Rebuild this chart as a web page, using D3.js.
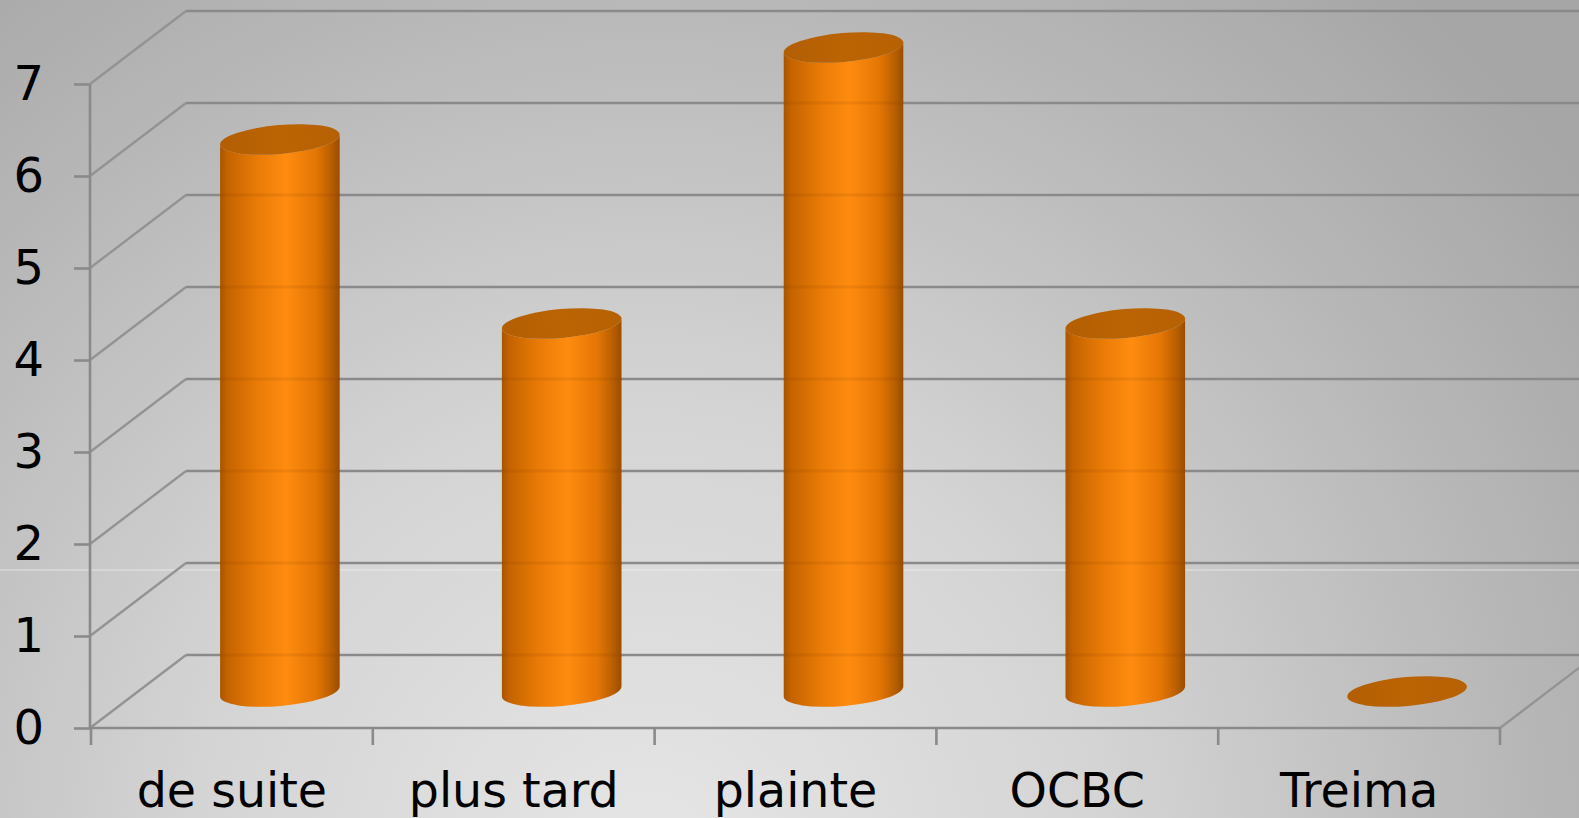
<!DOCTYPE html>
<html>
<head>
<meta charset="utf-8">
<script src="https://cdn.jsdelivr.net/npm/d3@7"></script>
<style>
    html, body { margin: 0; padding: 0; overflow: hidden; }
    svg { display: block; }
</style>
</head>
<body>
<div id="chart"></div>
<script>
const categories = ['de suite', 'plus tard', 'plainte', 'OCBC', 'Treima'];
const values = [6, 4, 7, 4, 0];
const yTicks = [0, 1, 2, 3, 4, 5, 6, 7];

const W = 1579, H = 818;
// 3d depth offset of the back wall
const depth = {dx: 96, dy: -73};

const svg = d3.select('#chart').append('svg')
    .attr('width', W)
    .attr('height', H);

const defs = svg.append('defs');

const bg = defs.append('radialGradient')
    .attr('id', 'bg')
    .attr('gradientUnits', 'userSpaceOnUse')
    .attr('cx', 650).attr('cy', 860).attr('r', 1150);
bg.append('stop').attr('offset', 0).attr('stop-color', '#e6e6e6');
bg.append('stop').attr('offset', 0.4).attr('stop-color', '#d4d4d4');
bg.append('stop').attr('offset', 0.75).attr('stop-color', '#b8b8b8');
bg.append('stop').attr('offset', 1).attr('stop-color', '#a6a6a6');

const sideGrad = defs.append('linearGradient')
    .attr('id', 'side')
    .attr('x1', 0).attr('x2', 1).attr('y1', 0).attr('y2', 0);
[[0, '#a85400'], [0.06, '#c46300'], [0.3, '#e87a06'], [0.55, '#ff8c10'],
 [0.8, '#e47604'], [0.93, '#b85e00'], [1, '#9a4d00']].forEach(([o, c]) => {
    sideGrad.append('stop').attr('offset', o).attr('stop-color', c);
});

const capGrad = defs.append('linearGradient')
    .attr('id', 'cap')
    .attr('x1', 0).attr('x2', 1).attr('y1', 0).attr('y2', 0);
capGrad.append('stop').attr('offset', 0).attr('stop-color', '#b25e02');
capGrad.append('stop').attr('offset', 0.5).attr('stop-color', '#bb6404');
capGrad.append('stop').attr('offset', 1).attr('stop-color', '#b66103');

svg.append('rect')
    .attr('width', W).attr('height', H)
    .attr('fill', 'url(#bg)');

// faint light seam across the background
svg.append('line')
    .attr('x1', 0).attr('x2', W)
    .attr('y1', 570).attr('y2', 570)
    .attr('stroke', '#f2f2f2')
    .attr('stroke-opacity', 0.7)
    .attr('stroke-width', 1.2);

const x = d3.scaleBand().domain(categories).range([91, 1500]).padding(0);
const y = d3.scaleLinear().domain([0, 7]).range([728, 84]);

const gridColor = '#8a8a8a';

// back wall gridlines
svg.append('g').selectAll('line')
    .data(yTicks)
    .join('line')
    .attr('x1', 90 + depth.dx).attr('x2', W)
    .attr('y1', d => y(d) + depth.dy).attr('y2', d => y(d) + depth.dy)
    .attr('stroke', gridColor)
    .attr('stroke-width', 2.6);

// side wall diagonals
svg.append('g').selectAll('line')
    .data(yTicks)
    .join('line')
    .attr('x1', 90).attr('x2', 90 + depth.dx)
    .attr('y1', d => y(d)).attr('y2', d => y(d) + depth.dy)
    .attr('stroke', '#939393')
    .attr('stroke-width', 2.3);

// floor right edge
svg.append('line')
    .attr('x1', x.range()[1]).attr('y1', y(0))
    .attr('x2', x.range()[1] + depth.dx).attr('y2', y(0) + depth.dy)
    .attr('stroke', '#939393')
    .attr('stroke-width', 2.3);

// front axes
const yAxis = d3.axisLeft(y).tickValues(yTicks).tickSize(16).tickPadding(30).tickFormat(d3.format('d'));
const gy = svg.append('g')
    .attr('transform', 'translate(90,0)')
    .call(yAxis);
gy.select('.domain').attr('stroke', gridColor).attr('stroke-width', 2.6).attr('d', `M0,${y(0)}V${y(7)}`);
gy.selectAll('.tick line').attr('stroke', gridColor).attr('stroke-width', 2.6);
gy.selectAll('.tick text')
    .attr('fill', '#000')
    .attr('font-family', '"DejaVu Sans", Verdana, sans-serif')
    .attr('font-size', 48);

const xAxis = d3.axisBottom(x).tickSize(0).tickPadding(0);
const gx = svg.append('g')
    .attr('transform', `translate(0,${y(0)})`)
    .call(xAxis);
gx.select('.domain').attr('stroke', gridColor).attr('stroke-width', 2.6).attr('d', `M${x.range()[0] - 1},0H${x.range()[1]}`);
gx.selectAll('.tick text')
    .attr('fill', '#000')
    .attr('y', 79)
    .attr('dy', 0)
    .attr('font-family', '"DejaVu Sans", Verdana, sans-serif')
    .attr('font-size', 47.5);

// category separator ticks
svg.append('g').selectAll('line')
    .data(categories.concat(['end']))
    .join('line')
    .attr('x1', (d, i) => i < categories.length ? x(d) : x.range()[1])
    .attr('x2', (d, i) => i < categories.length ? x(d) : x.range()[1])
    .attr('y1', y(0)).attr('y2', y(0) + 17)
    .attr('stroke', gridColor)
    .attr('stroke-width', 2.6);

// cylinders, sitting halfway into the depth
const rx = x.bandwidth() * 0.213;
const ry = 14.5;
const rot = -5;
const rad = rot * Math.PI / 180;
const ex = rx * Math.cos(rad), ey = rx * Math.sin(rad);

const bars = categories.map((c, i) => ({
    cat: c,
    value: values[i],
    cx: x(c) + x.bandwidth() / 2 + depth.dx / 2,
    yb: y(0) + depth.dy / 2,
    yt: y(values[i]) + depth.dy / 2
}));

const g = svg.append('g');

g.selectAll('path.side')
    .data(bars.filter(d => d.value > 0))
    .join('path')
    .attr('class', 'side')
    .attr('fill', 'url(#side)')
    .attr('d', d => {
        const lx = d.cx - ex, rxp = d.cx + ex;
        return `M${lx},${d.yt - ey}L${lx},${d.yb - ey}` +
            `A${rx},${ry} ${rot} 0 0 ${rxp},${d.yb + ey}` +
            `L${rxp},${d.yt + ey}` +
            `A${rx},${ry} ${rot} 0 1 ${lx},${d.yt - ey}Z`;
    });

// faint gridline shadows across the cylinders
g.selectAll('g.shade')
    .data(bars.filter(d => d.value > 0))
    .join('g')
    .attr('class', 'shade')
    .selectAll('line')
    .data(d => yTicks.filter(t => y(t) + depth.dy > d.yt + 10 && y(t) + depth.dy < d.yb).map(t => ({t, d})))
    .join('line')
    .attr('x1', o => o.d.cx - ex).attr('x2', o => o.d.cx + ex)
    .attr('y1', o => y(o.t) + depth.dy).attr('y2', o => y(o.t) + depth.dy)
    .attr('stroke', '#7a3a00')
    .attr('stroke-opacity', 0.12)
    .attr('stroke-width', 3);

g.selectAll('ellipse.cap')
    .data(bars)
    .join('ellipse')
    .attr('class', 'cap')
    .attr('cx', d => d.cx)
    .attr('cy', d => d.yt)
    .attr('rx', rx)
    .attr('ry', ry)
    .attr('transform', d => `rotate(${rot},${d.cx},${d.yt})`)
    .attr('fill', 'url(#cap)');
</script>
</body>
</html>
